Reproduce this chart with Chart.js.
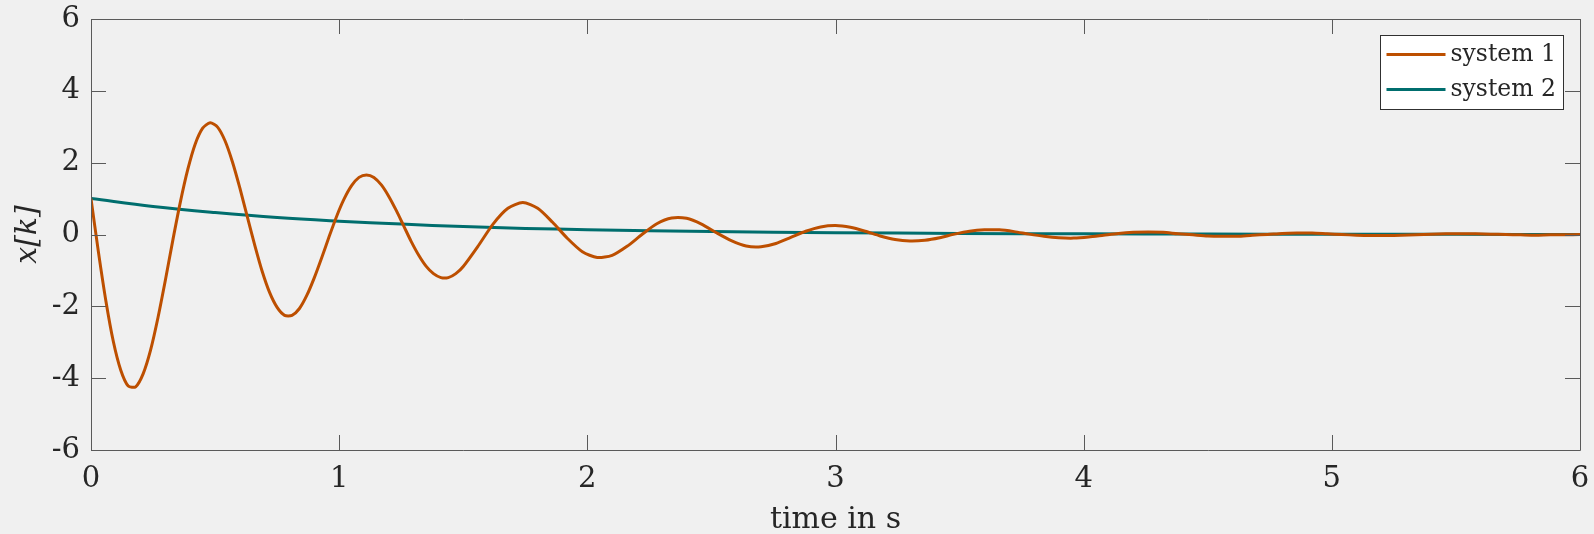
<!DOCTYPE html>
<html>
<head>
<meta charset="utf-8">
<title>x[k] response</title>
<script src="https://cdn.jsdelivr.net/npm/chart.js@4.4.0/dist/chart.umd.min.js"></script>
<style>
  html, body { margin: 0; padding: 0; background: #f0f0f0; }
  canvas { display: block; }
</style>
</head>
<body>
<canvas id="chart" width="1594" height="534"></canvas>
<script>
// Data
const timeS1 = [
  0, 0.03, 0.06, 0.09, 0.12, 0.15, 0.18, 0.21, 0.24, 0.27,
  0.30, 0.33, 0.36, 0.39, 0.42, 0.45, 0.48, 0.51, 0.54, 0.57,
  0.60, 0.63, 0.66, 0.69, 0.72, 0.75, 0.78, 0.81, 0.84, 0.87,
  0.90, 0.93, 0.96, 0.99, 1.02, 1.05, 1.08, 1.11, 1.14, 1.17,
  1.20, 1.23, 1.26, 1.29, 1.32, 1.35, 1.38, 1.41, 1.44, 1.47,
  1.50, 1.56, 1.62, 1.68, 1.74, 1.80, 1.86, 1.92, 1.98, 2.04,
  2.10, 2.16, 2.22, 2.28, 2.34, 2.40, 2.46, 2.52, 2.58, 2.64,
  2.70, 2.76, 2.82, 2.88, 2.94, 3.00, 3.06, 3.12, 3.18, 3.24,
  3.30, 3.36, 3.42, 3.48, 3.54, 3.60, 3.66, 3.72, 3.78, 3.84,
  3.90, 3.96, 4.02, 4.08, 4.14, 4.20, 4.26, 4.32, 4.38, 4.44,
  4.50, 4.56, 4.62, 4.68, 4.74, 4.80, 4.86, 4.92, 4.98, 5.04,
  5.10, 5.16, 5.22, 5.28, 5.34, 5.40, 5.46, 5.52, 5.58, 5.64,
  5.70, 5.76, 5.82, 5.88, 5.94, 6.00
];
const valueS1 = [
  1.00, -0.49, -1.85, -2.98, -3.78, -4.22, -4.24, -3.88, -3.22, -2.31,
  -1.26, -0.15, 0.90, 1.81, 2.52, 2.96, 3.11, 2.99, 2.61, 2.02,
  1.29, 0.49, -0.30, -1.03, -1.62, -2.03, -2.25, -2.25, -2.06, -1.69,
  -1.20, -0.64, -0.05, 0.51, 0.99, 1.36, 1.59, 1.66, 1.59, 1.38,
  1.06, 0.67, 0.24, -0.19, -0.57, -0.88, -1.09, -1.20, -1.20, -1.09,
  -0.89, -0.32, 0.29, 0.73, 0.89, 0.73, 0.34, -0.11, -0.48, -0.64,
  -0.58, -0.33, 0.00, 0.30, 0.46, 0.45, 0.29, 0.05, -0.17, -0.32,
  -0.34, -0.25, -0.08, 0.09, 0.21, 0.25, 0.20, 0.09, -0.04, -0.14,
  -0.18, -0.16, -0.09, 0.01, 0.09, 0.13, 0.13, 0.08, 0.01, -0.05,
  -0.09, -0.10, -0.07, -0.02, 0.03, 0.06, 0.07, 0.06, 0.02, -0.01,
  -0.04, -0.05, -0.05, -0.02, 0.00, 0.03, 0.04, 0.04, 0.02, 0.00,
  -0.02, -0.03, -0.03, -0.02, -0.01, 0.01, 0.02, 0.02, 0.02, 0.01,
  0.00, -0.01, -0.02, -0.01, -0.01, 0.00
];
const timeS2 = [0, 0.25, 0.5, 0.75, 1, 1.25, 1.5, 1.75, 2, 2.5, 3, 3.5, 4, 4.5, 5, 5.5, 6];
const valueS2 = [1.00, 0.78, 0.61, 0.47, 0.37, 0.29, 0.22, 0.17, 0.135, 0.082, 0.050, 0.030, 0.018, 0.011, 0.007, 0.004, 0.002];

const seriesLabels = ['system 1', 'system 2'];
const seriesColors = ['#bd4f00', '#006e6e'];
const xTicks = [0, 1, 2, 3, 4, 5, 6];
const yTicks = [-6, -4, -2, 0, 2, 4, 6];

const serif = 'DejaVu Serif';
const axisColor = '#5a5a5a';
const textColor = '#262626';

function toPoints(xs, ys) {
  return xs.map((x, i) => ({ x: x, y: ys[i] }));
}

// Box frame, inward ticks and the legend drawn like the original
const frameAndLegend = {
  id: 'frameAndLegend',
  afterDraw(chart) {
    const { ctx, chartArea: a, scales } = chart;
    const tickLen = 15;
    ctx.save();
    ctx.strokeStyle = axisColor;
    ctx.lineWidth = 1;
    ctx.beginPath();
    ctx.rect(Math.round(a.left) + 0.5, Math.round(a.top) + 0.5,
      Math.round(a.right) - Math.round(a.left), Math.round(a.bottom) - Math.round(a.top));
    xTicks.forEach(v => {
      const px = Math.round(scales.x.getPixelForValue(v)) + 0.5;
      ctx.moveTo(px, a.bottom); ctx.lineTo(px, a.bottom - tickLen);
      ctx.moveTo(px, a.top); ctx.lineTo(px, a.top + tickLen);
    });
    yTicks.forEach(v => {
      const py = Math.round(scales.y.getPixelForValue(v)) + 0.5;
      ctx.moveTo(a.left, py); ctx.lineTo(a.left + tickLen, py);
      ctx.moveTo(a.right, py); ctx.lineTo(a.right - tickLen, py);
    });
    ctx.stroke();

    // legend
    const boxW = 183, boxH = 74;
    const bx = Math.round(a.right - 17 - boxW) + 0.5;
    const by = Math.round(a.top + 16) + 0.5;
    ctx.fillStyle = '#ffffff';
    ctx.fillRect(bx, by, boxW, boxH);
    ctx.strokeStyle = '#303030';
    ctx.strokeRect(bx, by, boxW, boxH);
    ctx.font = '23.5px "' + serif + '"';
    ctx.textBaseline = 'middle';
    ctx.textAlign = 'left';
    chart.data.datasets.forEach((ds, i) => {
      const ly = by + 19 + i * 35;
      ctx.strokeStyle = ds.borderColor;
      ctx.lineWidth = 3;
      ctx.beginPath();
      ctx.moveTo(bx + 6, ly);
      ctx.lineTo(bx + 65, ly);
      ctx.stroke();
      ctx.fillStyle = textColor;
      ctx.fillText(ds.label, bx + 70, ly);
    });
    ctx.restore();
  }
};

const chart = new Chart(document.getElementById('chart'), {
  type: 'line',
  data: {
    datasets: [
      {
        label: seriesLabels[0],
        data: toPoints(timeS1, valueS1),
        borderColor: seriesColors[0],
        borderWidth: 3,
        pointRadius: 0,
        tension: 0.25,
        fill: false
      },
      {
        label: seriesLabels[1],
        data: toPoints(timeS2, valueS2),
        borderColor: seriesColors[1],
        borderWidth: 3,
        pointRadius: 0,
        tension: 0.4,
        fill: false
      }
    ]
  },
  options: {
    responsive: false,
    animation: false,
    layout: { padding: { left: 0, right: 14, top: 19, bottom: 0 } },
    plugins: {
      legend: { display: false },
      tooltip: { enabled: false }
    },
    scales: {
      x: {
        type: 'linear',
        min: 0,
        max: 6,
        afterFit: s => { s.height = 84; s.paddingLeft = 0; s.paddingRight = 0; },
        afterBuildTicks: s => { s.ticks = xTicks.map(v => ({ value: v })); },
        grid: { display: false, drawTicks: false },
        border: { display: false },
        ticks: {
          padding: 12,
          color: textColor,
          font: { family: serif, size: 29 }
        },
        title: {
          display: true,
          text: 'time in s',
          color: textColor,
          font: { family: serif, size: 30, lineHeight: 0.9 },
          padding: 0
        }
      },
      y: {
        min: -6,
        max: 6,
        afterFit: s => { s.width = 91; s.paddingTop = 0; s.paddingBottom = 0; },
        afterBuildTicks: s => { s.ticks = yTicks.map(v => ({ value: v })); },
        grid: { display: false, drawTicks: false },
        border: { display: false },
        ticks: {
          padding: 11,
          color: textColor,
          font: { family: serif, size: 29 }
        },
        title: {
          display: true,
          text: 'x[k]',
          color: textColor,
          font: { family: serif, size: 30, style: 'italic', lineHeight: 1.2 },
          padding: { top: 10, bottom: 0 }
        }
      }
    }
  },
  plugins: [frameAndLegend]
});
</script>
</body>
</html>
